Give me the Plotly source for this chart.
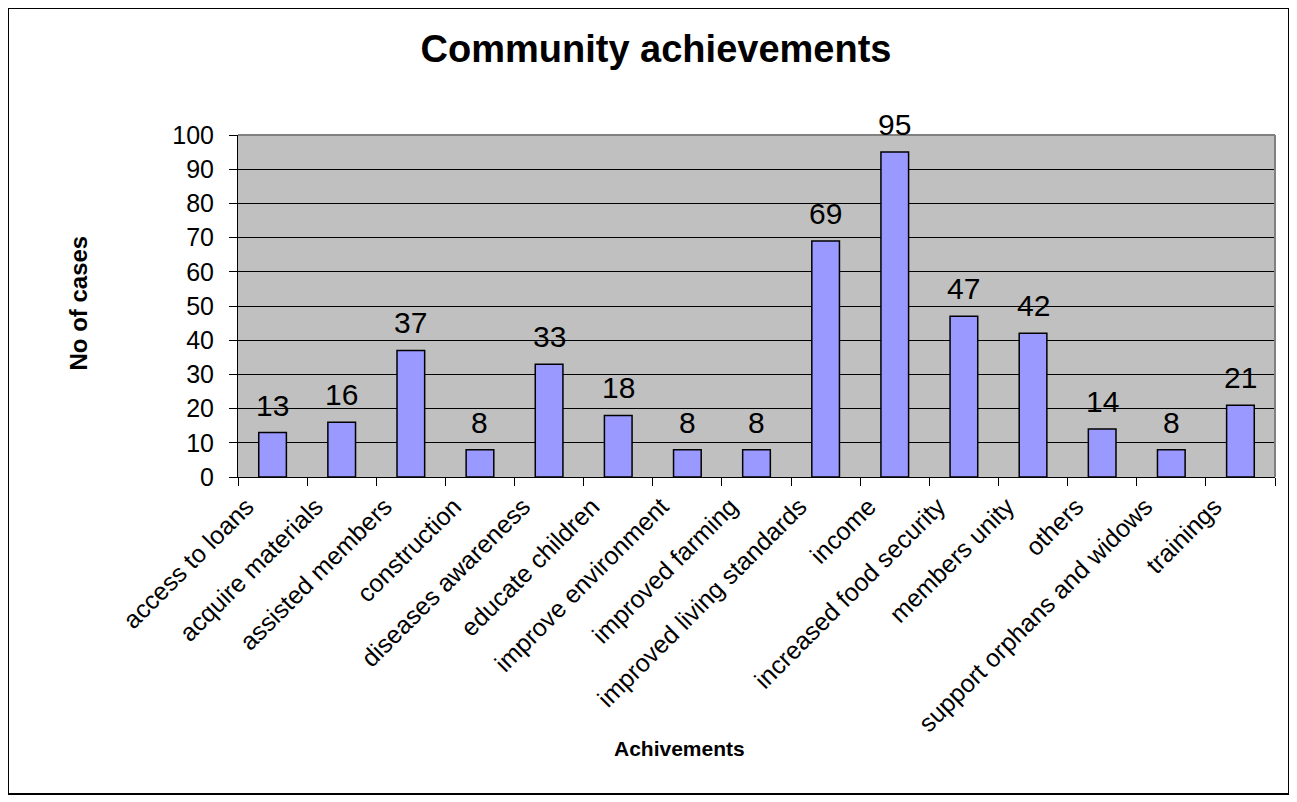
import plotly.graph_objects as go

categories = ["access to loans", "acquire materials", "assisted members", "construction",
              "diseases awareness", "educate children", "improve environment", "improved farming",
              "improved living standards", "income", "increased food security", "members unity",
              "others", "support orphans and widows", "trainings"]
values = [13, 16, 37, 8, 33, 18, 8, 8, 69, 95, 47, 42, 14, 8, 21]
y_ticks = [0, 10, 20, 30, 40, 50, 60, 70, 80, 90, 100]

W, H = 1297, 802
OFF = 8  # page body margin
L, R, T, B = 238 - OFF, 1275 - OFF, 135 - OFF, 477 - OFF
FONT = "Liberation Sans, Arial, sans-serif"

def px_x(px):
    return (px - OFF - L) / (R - L)

def px_y(py):
    return (B - (py - OFF)) / (B - T)

fig = go.Figure(go.Bar(
    x=categories, y=values, width=0.4,
    marker=dict(color="#9999FF", line=dict(color="black", width=1.5)),
    cliponaxis=False, hoverinfo="x+y",
))

for c, v in zip(categories, values):
    fig.add_annotation(x=c, y=v, text=str(v), showarrow=False, xref="x", yref="y",
                       yanchor="bottom", yshift=9,
                       font=dict(size=30, family=FONT, color="black"))

fig.update_layout(
    width=W, height=H,
    margin=dict(l=L, r=W - R, t=T, b=H - B),
    paper_bgcolor="white", plot_bgcolor="#C0C0C0",
    font=dict(family=FONT, color="black"),
    showlegend=False,
    title=dict(text="<b>Community achievements</b>", font=dict(size=38, family=FONT, color="black"),
               x=(656 - OFF) / W, xanchor="center", xref="container",
               y=1 - (49 - OFF) / H, yanchor="middle", yref="container"),
)

fig.update_xaxes(
    type="category", range=[-0.5, len(categories) - 0.5],
    tickangle=-45, tickfont=dict(size=25, family=FONT, color="black"),
    ticks="outside", ticklen=8, tickcolor="black", tickwidth=1, tickson="boundaries",
    ticklabelshift=-26, ticklabelstandoff=4,
    showline=True, linecolor="black", linewidth=1, showgrid=False,
    automargin=False,
)
fig.update_yaxes(
    range=[0, 100], tickvals=y_ticks, ticktext=[str(v) for v in y_ticks],
    tickfont=dict(size=25, family=FONT, color="black"),
    ticks="outside", ticklen=8, tickcolor="black", tickwidth=1, ticklabelstandoff=10,
    showline=True, linecolor="black", linewidth=1,
    showgrid=True, gridcolor="black", gridwidth=1, zeroline=False,
    automargin=False,
)

fig.add_annotation(text="<b>Achivements</b>", xref="paper", yref="paper",
                   x=px_x(679), y=px_y(762), showarrow=False,
                   font=dict(size=21, family=FONT, color="black"))
fig.add_annotation(text="<b>No of cases</b>", xref="paper", yref="paper",
                   x=px_x(62), y=px_y(303), showarrow=False, textangle=-90,
                   font=dict(size=24, family=FONT, color="black"))

# gray plot-area border (top & right)
fig.add_shape(type="line", xref="paper", yref="paper", x0=0, x1=1, y0=1, y1=1,
              line=dict(color="#808080", width=2), layer="above")
fig.add_shape(type="line", xref="paper", yref="paper", x0=1, x1=1, y0=0, y1=1,
              line=dict(color="#808080", width=2), layer="above")
# outer chart border
fig.add_shape(type="rect", xref="paper", yref="paper",
              x0=px_x(8), x1=px_x(1289), y0=px_y(8), y1=px_y(794),
              line=dict(color="black", width=2), fillcolor="rgba(0,0,0,0)", layer="above")

fig.write_html("out.html")
